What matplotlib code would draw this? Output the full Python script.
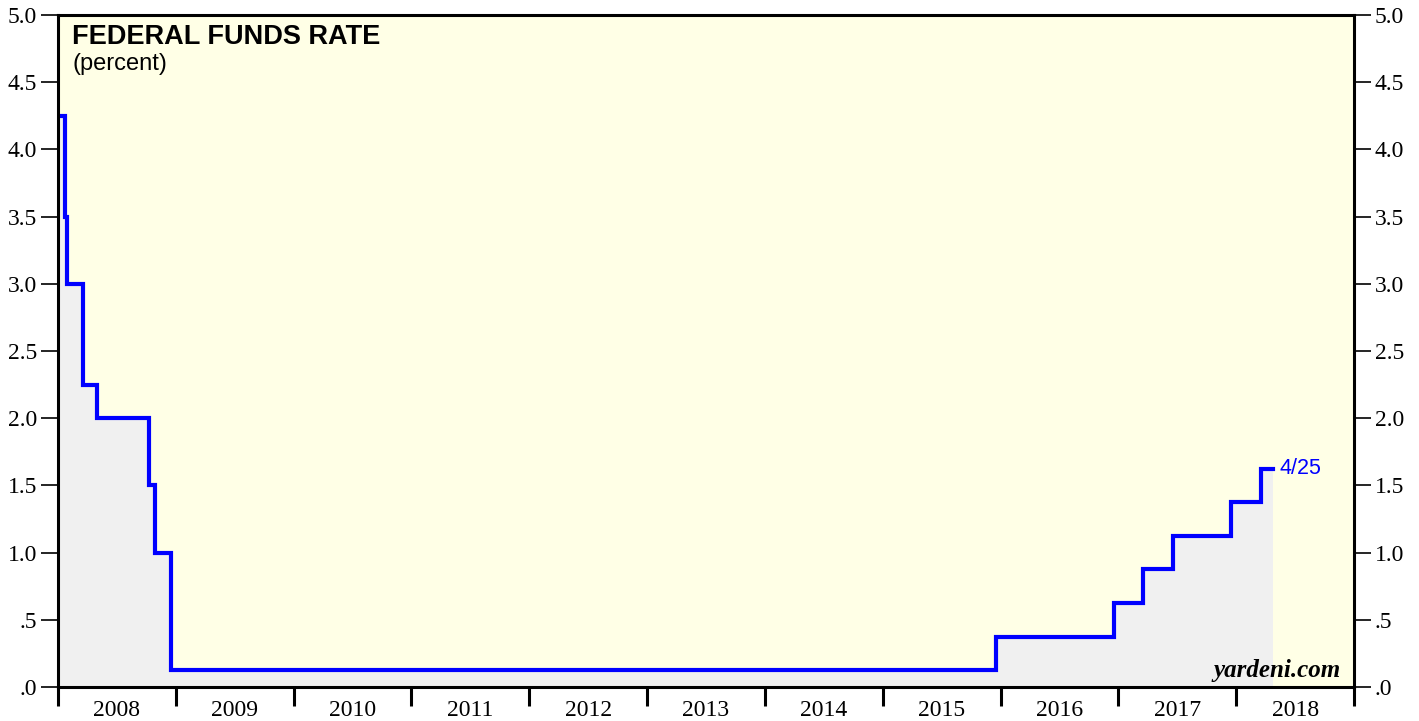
import matplotlib.pyplot as plt
import numpy as np
from matplotlib.ticker import FixedLocator, FixedFormatter

# fed funds target (midpoint of range after 12/2008), decimal year of each change
change_dates = [2008.0, 2008.06, 2008.08, 2008.21, 2008.33, 2008.77, 2008.82, 2008.96,
                2015.96, 2016.96, 2017.21, 2017.46, 2017.96, 2018.21]
rates = [4.25, 3.5, 3.0, 2.25, 2.0, 1.5, 1.0, 0.125,
         0.375, 0.625, 0.875, 1.125, 1.375, 1.625]
last_date = 2018.31
last_label = "4/25"

years = list(range(2008, 2019))
ytick_vals = [0, 0.5, 1.0, 1.5, 2.0, 2.5, 3.0, 3.5, 4.0, 4.5, 5.0]
ytick_labels = [".0", ".5", "1.0", "1.5", "2.0", "2.5", "3.0", "3.5", "4.0", "4.5", "5.0"]

x = np.array(change_dates + [last_date])
y = np.array(rates + [rates[-1]])

fig = plt.figure(figsize=(14.19, 7.21), dpi=100)
ax = fig.add_axes([58 / 1419, 34 / 721, 1296 / 1419, 672 / 721])
ax.set_facecolor("#ffffe6")

ax.fill_between(x, y, step="post", color="#f0f0f0", lw=0)
ax.step(x, y, where="post", color="#0000ff", lw=3.0, solid_joinstyle="miter")
ax.text(last_date + 0.06, rates[-1], last_label, color="#0000ff",
        fontsize=15.5, family="Liberation Sans", va="center", ha="left")

ax.set_xlim(2008, 2019)
ax.set_ylim(0, 5)

# y axis on both sides
ax.yaxis.set_major_locator(FixedLocator(ytick_vals))
ax.yaxis.set_major_formatter(FixedFormatter(ytick_labels))
ax.tick_params(axis="y", which="major", direction="out", length=12, width=1.2,
               left=True, right=True, labelleft=True, labelright=True,
               labelsize=17, pad=3)

# x axis: long ticks at year boundaries, labels centred in each year
ax.xaxis.set_major_locator(FixedLocator(years + [2019]))
ax.xaxis.set_major_formatter(FixedFormatter([""] * (len(years) + 1)))
ax.xaxis.set_minor_locator(FixedLocator([yr + 0.5 for yr in years]))
ax.xaxis.set_minor_formatter(FixedFormatter([str(yr) for yr in years]))
ax.tick_params(axis="x", which="major", direction="out", length=14, width=2.2)
ax.tick_params(axis="x", which="minor", length=0, labelsize=17, pad=9)

for t in ax.yaxis.get_major_ticks():
    t.label1.set_family("Liberation Serif")
    t.label2.set_family("Liberation Serif")
for t in ax.xaxis.get_minor_ticks():
    t.label1.set_family("Liberation Serif")

for sp in ax.spines.values():
    sp.set_linewidth(2.2)
    sp.set_color("black")

ax.text(0.011, 0.987, "FEDERAL FUNDS RATE", transform=ax.transAxes, fontsize=19.5,
        fontweight="bold", family="Liberation Sans", va="top", ha="left")
ax.text(0.011, 0.943, "(percent)", transform=ax.transAxes, fontsize=17,
        family="Liberation Sans", va="top", ha="left")
ax.text(0.99, 0.008, "yardeni.com", transform=ax.transAxes, fontsize=18,
        fontweight="bold", style="italic", family="Liberation Serif",
        va="bottom", ha="right")

fig.savefig("out.png", dpi=100)
